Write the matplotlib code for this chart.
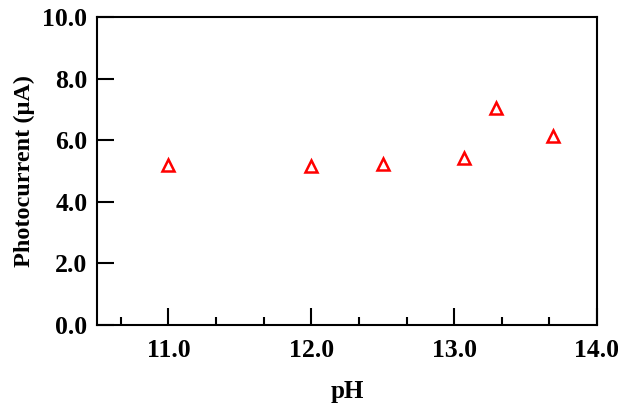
import matplotlib
matplotlib.use("Agg")
import matplotlib.pyplot as plt
from matplotlib.ticker import MultipleLocator, FormatStrFormatter

ph = [11.0, 12.0, 12.5, 13.07, 13.29, 13.69]
photocurrent = [5.18, 5.15, 5.23, 5.42, 7.05, 6.13]

plt.rcParams['font.family'] = ['Liberation Serif', 'DejaVu Serif']
plt.rcParams['font.weight'] = 'bold'

fig = plt.figure(figsize=(6.18, 4.04), dpi=100)
ax = fig.add_axes([0.157, 0.1955, 0.809, 0.7625])
ax.plot(ph, photocurrent, linestyle='none', marker='^', markersize=9,
        markerfacecolor='white', markeredgecolor='#ff0000', markeredgewidth=1.8)

ax.set_xlim(10.5, 14.0)
ax.set_ylim(0, 10)
ax.xaxis.set_major_locator(MultipleLocator(1.0))
ax.xaxis.set_minor_locator(MultipleLocator(1/3))
ax.yaxis.set_major_locator(MultipleLocator(2.0))
ax.xaxis.set_major_formatter(FormatStrFormatter('%.1f'))
ax.yaxis.set_major_formatter(FormatStrFormatter('%.1f'))
ax.tick_params(which='major', direction='in', length=12.5, width=1.5, labelsize=18.5, pad=10)
ax.tick_params(which='minor', direction='in', length=6, width=1.5)
ax.tick_params(top=False, right=False, which='both')
ax.tick_params(axis='y', pad=7)
for s in ax.spines.values():
    s.set_linewidth(1.5)
for lab in ax.get_xticklabels() + ax.get_yticklabels():
    lab.set_fontweight('bold')

ax.set_xlabel('pH', fontsize=18, fontweight='bold', labelpad=13)
ax.set_ylabel('Photocurrent (μA)', fontsize=17.5, fontweight='bold', labelpad=5)

fig.savefig('out.png', dpi=100)
